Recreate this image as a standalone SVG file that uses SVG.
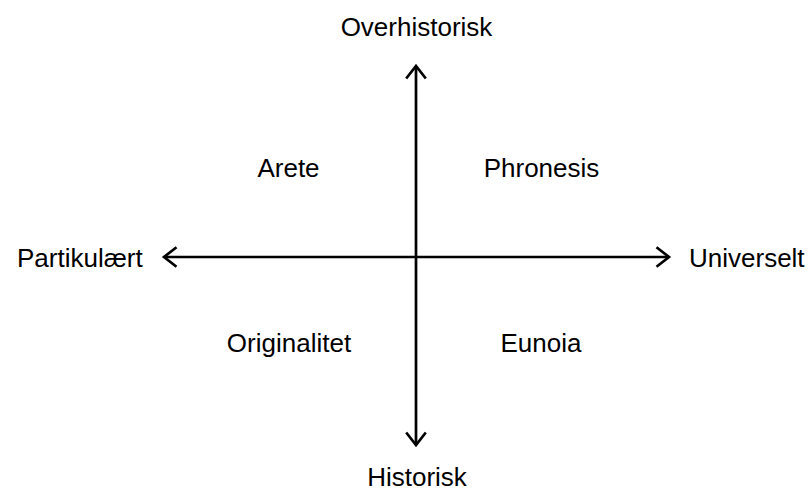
<svg xmlns="http://www.w3.org/2000/svg" width="812" height="491" viewBox="0 0 812 491">
  <style>
    text { font-family: "Liberation Sans", Arial, sans-serif; font-size: 26px; fill: #000; }
    .axis { stroke: #000; stroke-width: 2.7; fill: none; }
    .mid { text-anchor: middle; }
  </style>
  <defs>
    <marker id="chevron" markerUnits="userSpaceOnUse" markerWidth="30" markerHeight="30" refX="0" refY="0" orient="auto-start-reverse" viewBox="-15 -15 30 30" overflow="visible">
      <path d="M -12.5 -9.8 L 0 0 L -12.5 9.8" fill="none" stroke="#000" stroke-width="2.7" stroke-linejoin="miter"/>
    </marker>
  </defs>

  <!-- axes -->
  <g id="connectors">
    <line class="axis" x1="416" y1="66" x2="416" y2="445" marker-start="url(#chevron)" marker-end="url(#chevron)"/>
    <line class="axis" x1="164" y1="257" x2="669" y2="257" marker-start="url(#chevron)" marker-end="url(#chevron)"/>
  </g>

  <!-- axis end labels -->
  <g id="overhistorisk"><text class="mid" x="416.5" y="36">Overhistorisk</text></g>
  <g id="historisk"><text class="mid" x="417" y="485.5">Historisk</text></g>
  <g id="partikulaert"><text x="17" y="266.5">Partikulært</text></g>
  <g id="universelt"><text x="689" y="266.5">Universelt</text></g>

  <!-- quadrant labels -->
  <g id="arete"><text class="mid" x="288.5" y="177">Arete</text></g>
  <g id="phronesis"><text class="mid" x="541.5" y="177">Phronesis</text></g>
  <g id="originalitet"><text class="mid" x="289" y="351.5">Originalitet</text></g>
  <g id="eunoia"><text class="mid" x="541" y="351.5">Eunoia</text></g>
</svg>
